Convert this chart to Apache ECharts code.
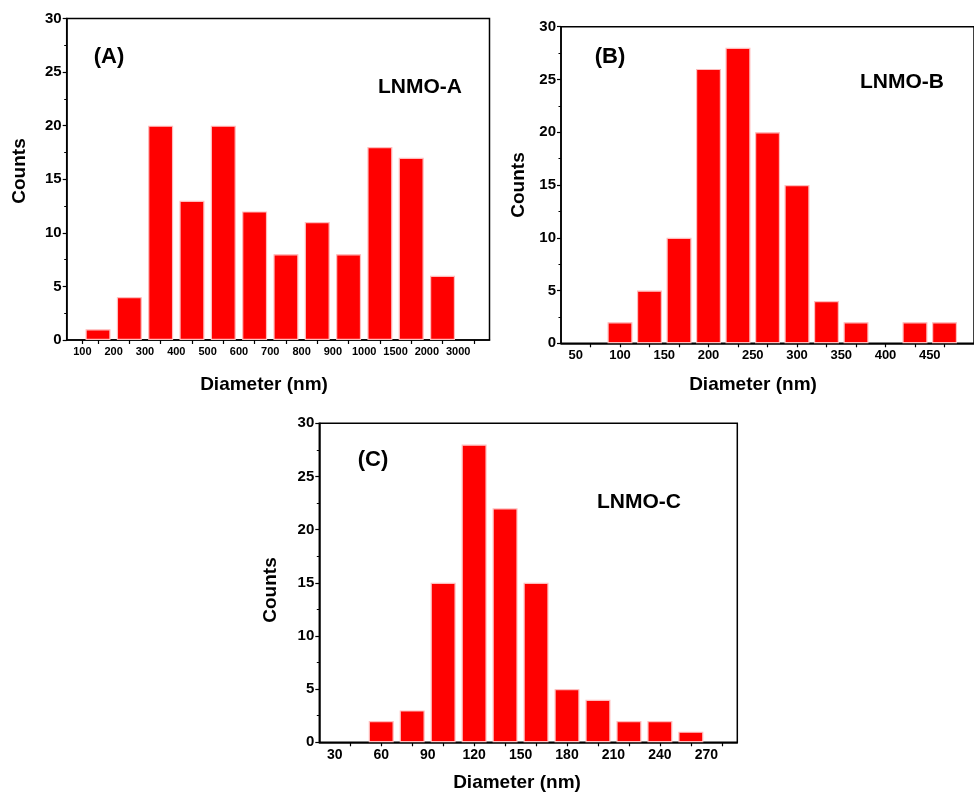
<!DOCTYPE html>
<html>
<head>
<meta charset="utf-8">
<script src="https://cdn.jsdelivr.net/npm/echarts@6/dist/echarts.min.js"></script>
<style>
html,body{margin:0;padding:0;background:#fff;}
#chart{width:974px;height:792px;}
</style>
</head>
<body>
<div id="chart"></div>
<script>
// ---- Data ----
const aLabels = ['100','200','300','400','500','600','700','800','900','1000','1500','2000','3000'];
const aCounts = [1, 4, 20, 13, 20, 12, 8, 11, 8, 18, 17, 6];

const bLabels = [50, 100, 150, 200, 250, 300, 350, 400, 450];
const bCenters = [100, 133.3, 166.7, 200, 233.3, 266.7, 300, 333.3, 366.7, 433.3, 466.7];
const bCounts = [2, 5, 10, 26, 28, 20, 15, 4, 2, 2, 2];
const bTicks = [33.3, 66.7, 100, 133.3, 166.7, 200, 233.3, 266.7, 300, 333.3, 366.7, 400, 433.3, 466.7];

const cLabels = [30, 60, 90, 120, 150, 180, 210, 240, 270];
const cCenters = [60, 80, 100, 120, 140, 160, 180, 200, 220, 240, 260];
const cCounts = [2, 3, 15, 28, 22, 15, 5, 4, 2, 2, 1];
const cTicks = [40, 60, 80, 100, 120, 140, 160, 180, 200, 220, 240, 260, 280];

const yMin = 0, yMax = 30, yStep = 5;

// ---- Chart ----
const FONT = '"Liberation Sans", Arial, Helvetica, sans-serif';
const chart = echarts.init(document.getElementById('chart'), null, {renderer: 'canvas'});

function yAxis(gi) {
  return {
    type: 'value', gridIndex: gi, min: yMin, max: yMax, interval: yStep,
    axisLine: {show: true, onZero: false, lineStyle: {color: '#000', width: 1.5}},
    axisTick: {show: true, inside: false, length: 4, lineStyle: {color: '#000', width: 1.2}},
    minorTick: {show: true, splitNumber: 2, length: 2.5, lineStyle: {color: '#000', width: 1}},
    axisLabel: {color: '#000', fontFamily: FONT, fontWeight: 'bold', fontSize: 15, margin: 5},
    splitLine: {show: false}
  };
}

function barSeries(gi, data, w) {
  return {
    type: 'bar', xAxisIndex: gi, yAxisIndex: gi, data: data, barWidth: w,
    itemStyle: {color: '#ff0000', borderColor: '#ffbdbd', borderWidth: 1.2},
    animation: false
  };
}

const gridBase = {show: true, borderColor: '#000', borderWidth: 1.5, backgroundColor: 'transparent'};

const option = {
  backgroundColor: '#fff',
  animation: false,
  grid: [
    Object.assign({left: 66.7, top: 18.5, width: 422.8, height: 321.5}, gridBase),
    Object.assign({left: 561, top: 26.7, width: 439, height: 316.6}, gridBase),
    Object.assign({left: 319.3, top: 423.3, width: 418, height: 319}, gridBase)
  ],
  xAxis: [
    {
      type: 'value', gridIndex: 0, min: -0.5, max: 13,
      axisLine: {show: true, onZero: false, lineStyle: {color: '#000', width: 1.5}},
      axisTick: {show: true, length: 4, lineStyle: {color: '#000', width: 1.2},
        customValues: [0].concat(aLabels.map((_, i) => i + 0.5))},
      axisLabel: {color: '#000', fontFamily: FONT, fontWeight: 'bold', fontSize: 11, margin: 6,
        customValues: aLabels.map((_, i) => i),
        formatter: v => aLabels[Math.round(v)]},
      splitLine: {show: false}
    },
    {
      type: 'value', gridIndex: 1, min: 100 / 3, max: 500,
      axisLine: {show: true, onZero: false, lineStyle: {color: '#000', width: 1.5}},
      axisTick: {show: true, length: 4, lineStyle: {color: '#000', width: 1.2}, customValues: bTicks},
      axisLabel: {color: '#000', fontFamily: FONT, fontWeight: 'bold', fontSize: 13, margin: 6,
        customValues: bLabels, formatter: v => String(Math.round(v))},
      splitLine: {show: false}
    },
    {
      type: 'value', gridIndex: 2, min: 20, max: 290,
      axisLine: {show: true, onZero: false, lineStyle: {color: '#000', width: 1.5}},
      axisTick: {show: true, length: 4, lineStyle: {color: '#000', width: 1.2}, customValues: cTicks},
      axisLabel: {color: '#000', fontFamily: FONT, fontWeight: 'bold', fontSize: 14, margin: 6,
        customValues: cLabels, formatter: v => String(Math.round(v))},
      splitLine: {show: false}
    }
  ],
  yAxis: [yAxis(0), yAxis(1), yAxis(2)],
  series: [
    barSeries(0, aCounts.map((v, i) => [i + 0.5, v]), 25),
    barSeries(1, bCenters.map((x, i) => [x, bCounts[i]]), 25),
    barSeries(2, cCenters.map((x, i) => [x, cCounts[i]]), 25)
  ],
  graphic: [
    // panel A
    {type: 'text', x: 264, y: 385, style: {text: 'Diameter (nm)', font: 'bold 19px ' + FONT, fill: '#000', align: 'center', verticalAlign: 'middle'}},
    {type: 'text', x: 20, y: 171, rotation: Math.PI / 2, style: {text: 'Counts', font: 'bold 19px ' + FONT, fill: '#000', align: 'center', verticalAlign: 'middle'}},
    {type: 'text', x: 109, y: 57, style: {text: '(A)', font: 'bold 22px ' + FONT, fill: '#000', align: 'center', verticalAlign: 'middle'}},
    {type: 'text', x: 420, y: 87, style: {text: 'LNMO-A', font: 'bold 21px ' + FONT, fill: '#000', align: 'center', verticalAlign: 'middle'}},
    // panel B
    {type: 'text', x: 753, y: 385, style: {text: 'Diameter (nm)', font: 'bold 19px ' + FONT, fill: '#000', align: 'center', verticalAlign: 'middle'}},
    {type: 'text', x: 519, y: 185, rotation: Math.PI / 2, style: {text: 'Counts', font: 'bold 19px ' + FONT, fill: '#000', align: 'center', verticalAlign: 'middle'}},
    {type: 'text', x: 610, y: 57, style: {text: '(B)', font: 'bold 22px ' + FONT, fill: '#000', align: 'center', verticalAlign: 'middle'}},
    {type: 'text', x: 902, y: 82, style: {text: 'LNMO-B', font: 'bold 21px ' + FONT, fill: '#000', align: 'center', verticalAlign: 'middle'}},
    // panel C
    {type: 'text', x: 517, y: 783, style: {text: 'Diameter (nm)', font: 'bold 19px ' + FONT, fill: '#000', align: 'center', verticalAlign: 'middle'}},
    {type: 'text', x: 271, y: 590, rotation: Math.PI / 2, style: {text: 'Counts', font: 'bold 19px ' + FONT, fill: '#000', align: 'center', verticalAlign: 'middle'}},
    {type: 'text', x: 373, y: 460, style: {text: '(C)', font: 'bold 22px ' + FONT, fill: '#000', align: 'center', verticalAlign: 'middle'}},
    {type: 'text', x: 639, y: 502, style: {text: 'LNMO-C', font: 'bold 21px ' + FONT, fill: '#000', align: 'center', verticalAlign: 'middle'}}
  ]
};
chart.setOption(option);
</script>
</body>
</html>
